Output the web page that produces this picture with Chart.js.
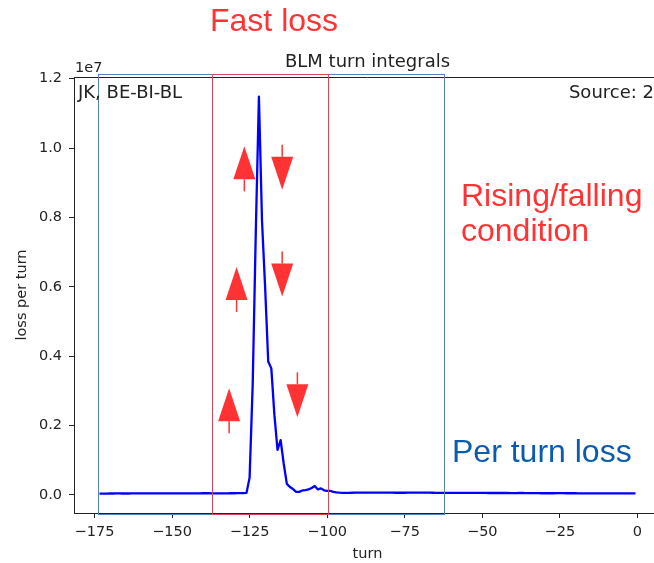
<!DOCTYPE html>
<html lang="en">
<head>
<meta charset="UTF-8">
<title>BLM turn integrals</title>
<script src="https://cdn.jsdelivr.net/npm/chart.js"></script>
<style>
  html, body { margin: 0; padding: 0; background: #fff; overflow: hidden; }
  #wrap { position: relative; width: 670px; height: 563px; }
</style>
</head>
<body>
<div id="wrap"><canvas id="chartLoss"></canvas></div>
<script>
// turn numbers (x)
var turns = [
  -173,-172,-171,-170,-169,-168,-167,-166,-165,-164,-163,-162,-161,-160,-159,-158,-157,-156,-155,-154,
  -153,-152,-151,-150,-149,-148,-147,-146,-145,-144,-143,-142,-141,-140,-139,-138,-137,-136,-135,-134,
  -133,-132,-131,-130,-129,-128,-127,-126,-125,-124,-123,-122,-121,-120,-119,-118,-117,-116,-115,-114,
  -113,-112,-111,-110,-109,-108,-107,-106,-105,-104,-103,-102,-101,-100,-99,-98,-97,-96,-95,-94,
  -93,-92,-91,-90,-89,-88,-87,-86,-85,-84,-83,-82,-81,-80,-79,-78,-77,-76,-75,-74,
  -73,-72,-71,-70,-69,-68,-67,-66,-65,-64,-63,-62,-61,-60,-59,-58,-57,-56,-55,-54,
  -53,-52,-51,-50,-49,-48,-47,-46,-45,-44,-43,-42,-41,-40,-39,-38,-37,-36,-35,-34,
  -33,-32,-31,-30,-29,-28,-27,-26,-25,-24,-23,-22,-21,-20,-19,-18,-17,-16,-15,-14,
  -13,-12,-11,-10,-9,-8,-7,-6,-5,-4,-3,-2,-1
];

// loss per turn, in units of 1e7
var lossE7 = [
  0.0040,0.0040,0.0041,0.0042,0.0042,0.0043,0.0043,0.0042,0.0042,0.0042,
  0.0043,0.0044,0.0044,0.0043,0.0043,0.0043,0.0044,0.0044,0.0044,0.0045,
  0.0045,0.0044,0.0044,0.0045,0.0045,0.0045,0.0044,0.0044,0.0045,0.0045,
  0.0046,0.0047,0.0048,0.0049,0.0050,0.0049,0.0048,0.0047,0.0047,0.0047,
  0.0048,0.0048,0.0049,0.0050,0.0051,0.0053,0.0055,
  // fast loss
  0.006,0.05,0.32,0.76,1.148,0.79,0.60,0.385,0.365,0.23,
  0.13,0.158,0.09,0.032,0.023,0.017,0.009,0.009,0.013,0.014,
  0.016,0.02,0.026,0.016,0.019,0.0135,0.0115,0.0115,0.009,0.0075,
  0.0065,
  // after
  0.0062,0.0062,0.0063,0.0064,0.0065,0.0066,0.0066,0.0067,0.0067,0.0067,
  0.0067,0.0067,0.0066,0.0066,0.0067,0.0066,0.0065,0.0064,0.0064,0.0064,
  0.0064,0.0065,0.0066,0.0067,0.0068,0.0069,0.0068,0.0066,0.0065,0.0064,
  0.0063,0.0062,0.0062,0.0061,0.0061,0.0060,0.0060,0.0059,0.0059,0.0059,
  0.0059,0.0060,0.0060,0.0059,0.0058,0.0058,0.0058,0.0057,0.0057,0.0056,
  0.0056,0.0057,0.0057,0.0056,0.0055,0.0055,0.0055,0.0056,0.0056,0.0055,
  0.0054,0.0053,0.0052,0.0051,0.0050,0.0049,0.0049,0.0050,0.0050,0.0051,
  0.0051,0.0051,0.0050,0.0050,0.0049,0.0049,0.0048,0.0048,0.0048,0.0048,
  0.0048,0.0048,0.0047,0.0047,0.0047,0.0047,0.0047,0.0046,0.0046,0.0046,
  0.0046,0.0046,0.0045,0.0045,0.0045
];

var xTicks = [-175, -150, -125, -100, -75, -50, -25, 0];
var yTicks = [0.0, 0.2, 0.4, 0.6, 0.8, 1.0, 1.2];

// slide annotations: boxes in turns, arrows at (turn, loss) of the tip
var fastLossBox = [-137, -99.7];
var perTurnBox = [-174, -62.4];
var upArrows = [[-126.7, 1.005], [-129.2, 0.657], [-131.6, 0.308]];
var downArrows = [[-114.5, 0.880], [-114.5, 0.572], [-109.6, 0.224]];

const tickFont = { family: 'DejaVu Sans', size: 14.5 };
const ink = '#222';

function drawArrow(ctx, cx, ty, dir) {
  // dir = 1 points up, -1 points down
  const head = 33, half = 11, stem = 12;
  const base = ty + dir * head;
  ctx.fillStyle = '#ff3333';
  ctx.beginPath();
  ctx.moveTo(cx, ty);
  ctx.lineTo(cx - half, base);
  ctx.lineTo(cx + half, base);
  ctx.closePath();
  ctx.fill();
  ctx.strokeStyle = '#ff3333';
  ctx.lineWidth = 1.5;
  ctx.beginPath();
  ctx.moveTo(cx, base);
  ctx.lineTo(cx, base + dir * stem);
  ctx.stroke();
}

const overlay = {
  id: 'overlay',
  afterDraw(chart) {
    const { ctx, chartArea: a, scales: { x, y } } = chart;
    ctx.save();
    // top spine
    ctx.strokeStyle = ink;
    ctx.lineWidth = 1;
    ctx.beginPath();
    ctx.moveTo(a.left, a.top + 0.5);
    ctx.lineTo(a.right, a.top + 0.5);
    ctx.stroke();

    // boxes
    const boxTop = a.top - 3.5;
    ctx.lineWidth = 1;
    ctx.strokeStyle = '#5a80bb';
    let l = x.getPixelForValue(perTurnBox[0]), r = x.getPixelForValue(perTurnBox[1]);
    ctx.strokeRect(Math.round(l) + 0.5, Math.round(boxTop) + 0.5, Math.round(r - l), Math.round(a.bottom - boxTop));
    ctx.strokeStyle = '#d9475a';
    l = x.getPixelForValue(fastLossBox[0]); r = x.getPixelForValue(fastLossBox[1]);
    ctx.strokeRect(Math.round(l) + 0.5, Math.round(boxTop) + 0.5, Math.round(r - l), Math.round(a.bottom - boxTop));

    // arrows
    upArrows.forEach(p => drawArrow(ctx, x.getPixelForValue(p[0]), y.getPixelForValue(p[1]), 1));
    downArrows.forEach(p => drawArrow(ctx, x.getPixelForValue(p[0]), y.getPixelForValue(p[1]), -1));

    // axes texts
    ctx.fillStyle = ink;
    ctx.textBaseline = 'alphabetic';
    ctx.font = '18px "DejaVu Sans"';
    ctx.textAlign = 'center';
    ctx.fillText('BLM turn integrals', (a.left + a.right) / 2, a.top - 10);
    ctx.textAlign = 'left';
    ctx.fillText('JK, BE-BI-BL', a.left + 4, a.top + 21);
    ctx.textAlign = 'right';
    ctx.fillText('Source: 2', 654, a.top + 21);
    ctx.textAlign = 'left';
    ctx.font = '14.5px "DejaVu Sans"';
    ctx.fillText('1e7', a.left + 1, a.top - 5);

    // slide labels
    ctx.font = '32px "Liberation Sans"';
    ctx.textBaseline = 'middle';
    ctx.fillStyle = '#ff3333';
    ctx.fillText('Fast loss', 210, 22);
    ctx.fillText('Rising/falling', 461, 197);
    ctx.fillText('condition', 461, 232);
    ctx.fillStyle = '#0b5cad';
    ctx.fillText('Per turn loss', 452, 453);
    ctx.restore();
  }
};

new Chart(document.getElementById('chartLoss'), {
  type: 'line',
  data: {
    datasets: [{
      data: turns.map((t, i) => ({ x: t, y: lossE7[i] })),
      borderColor: '#0000ff',
      borderWidth: 2.3,
      borderJoinStyle: 'round',
      borderCapStyle: 'square',
      pointRadius: 0,
      tension: 0,
      fill: false
    }]
  },
  options: {
    responsive: true,
    maintainAspectRatio: false,
    animation: false,
    layout: { padding: { top: 77, right: 9, left: 0, bottom: 0 } },
    plugins: { legend: { display: false }, tooltip: { enabled: false } },
    scales: {
      x: {
        type: 'linear',
        min: -181.6,
        max: 7.6,
        afterFit: s => { s.height = 50; },
        afterBuildTicks: s => { s.ticks = xTicks.map(v => ({ value: v })); },
        ticks: {
          font: tickFont, color: ink, padding: 6, maxRotation: 0, autoSkip: false,
          callback: v => v < 0 ? '\u2212' + Math.abs(v) : String(v)
        },
        grid: { drawOnChartArea: false, drawTicks: true, tickLength: 5, color: ink },
        border: { display: true, color: ink, width: 1 },
        title: { display: true, text: 'turn', font: tickFont, color: ink, padding: { top: 0, bottom: 0 } }
      },
      y: {
        min: -0.052,
        max: 1.205,
        afterFit: s => { s.width = 74; },
        afterBuildTicks: s => { s.ticks = yTicks.map(v => ({ value: v })); },
        ticks: {
          font: tickFont, color: ink, padding: 7, autoSkip: false,
          callback: v => v.toFixed(1)
        },
        grid: { drawOnChartArea: false, drawTicks: true, tickLength: 5, color: ink },
        border: { display: true, color: ink, width: 1 },
        title: { display: true, text: 'loss per turn', font: tickFont, color: ink, padding: { top: 14, bottom: 0 } }
      }
    }
  },
  plugins: [overlay]
});
</script>
</body>
</html>
